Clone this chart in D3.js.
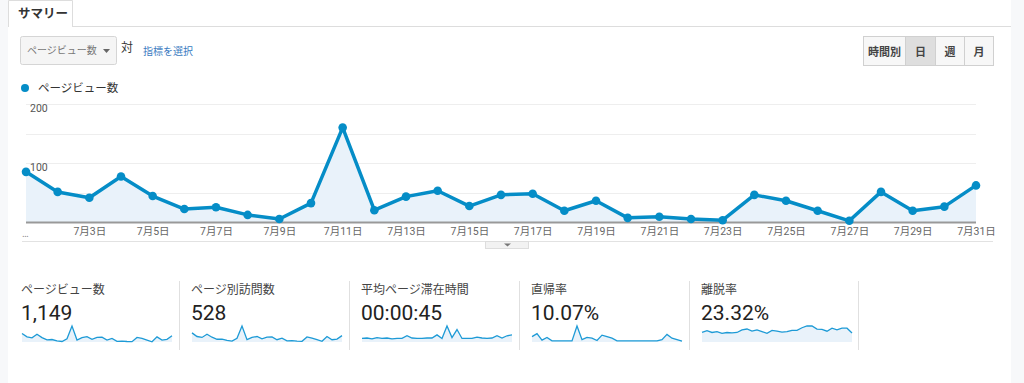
<!DOCTYPE html>
<html>
<head>
<meta charset="utf-8">
<script src="https://cdn.jsdelivr.net/npm/d3@7"></script>
<style>
  body { margin: 0; background: #fff; }
  svg { display: block; font-family: Roboto, "Noto Sans CJK JP", sans-serif; }
</style>
</head>
<body>
<div id="chart"></div>
<script>
// data (July, daily)
const days = d3.range(1, 32);
const dayLabels = days.map(d => `7月${d}日`);
const pageviews = [85, 51, 41, 77, 44, 22, 25, 12, 5, 32, 160, 20, 43, 53, 27, 46, 48, 19, 36, 7, 9, 5, 3, 46, 36, 19, 2, 51, 19, 26, 62];
const visits = [40, 24, 20, 34, 21, 12, 13, 7, 4, 16, 70, 10, 20, 24, 14, 21, 22, 10, 17, 5, 6, 4, 3, 22, 17, 10, 3, 24, 10, 13, 28];
const avgTime = [8, 9, 7, 10, 8, 9, 7, 8, 8, 14, 9, 8, 8, 9, 9, 16, 8, 36, 10, 28, 8, 8, 8, 11, 9, 8, 9, 14, 9, 14, 16];
const directRate = [14, 22, 5, 12, 3, 3, 3, 3, 3, 42, 6, 12, 10, 4, 18, 14, 10, 3, 3, 3, 3, 3, 3, 3, 3, 3, 6, 20, 10, 6, 2];
const bounceRate = [22, 26, 22, 24, 20, 22, 21, 22, 28, 30, 25, 28, 24, 20, 27, 25, 23, 24, 27, 27, 33, 37, 37, 30, 29, 25, 32, 28, 32, 32, 21];
const yTicks = [100, 200];
const periodButtons = ["時間別", "日", "週", "月"];
const summary = [
    { label: "ページビュー数", value: "1,149", data: pageviews },
    { label: "ページ別訪問数", value: "528", data: visits },
    { label: "平均ページ滞在時間", value: "00:00:45", data: avgTime },
    { label: "直帰率", value: "10.07%", data: directRate },
    { label: "離脱率", value: "23.32%", data: bounceRate }
];

const width = 1024, height = 383;
const blue = "#058dc7";

const svg = d3.select("#chart").append("svg")
    .attr("width", width)
    .attr("height", height);

// page frame
svg.append("rect").attr("x", 0).attr("y", 0).attr("width", 8).attr("height", height).attr("fill", "#f7f8fa");
svg.append("rect").attr("x", 1011).attr("y", 0).attr("width", 13).attr("height", height).attr("fill", "#f7f8fa");
svg.append("line").attr("x1", 8).attr("x2", 1011).attr("y1", 26.5).attr("y2", 26.5).attr("stroke", "#ddd");

// tab
svg.append("path")
    .attr("d", "M8.5,27 V0.5 H72.5 V27")
    .attr("fill", "#fff")
    .attr("stroke", "#ddd");
svg.append("text").attr("x", 18).attr("y", 18)
    .attr("font-size", 12.5).attr("font-weight", "bold").attr("fill", "#333")
    .text("サマリー");

// metric dropdown
svg.append("rect").attr("x", 20.5).attr("y", 36.5).attr("width", 96).attr("height", 28).attr("rx", 2)
    .attr("fill", "#f5f5f5").attr("stroke", "#d5d5d5");
svg.append("text").attr("x", 27).attr("y", 54).attr("font-size", 10).attr("fill", "#777").text("ページビュー数");
svg.append("path").attr("d", "M103,49 h7 l-3.5,4 z").attr("fill", "#666");
svg.append("text").attr("x", 121).attr("y", 52).attr("font-size", 12).attr("fill", "#333").text("対");
svg.append("text").attr("x", 143).attr("y", 55).attr("font-size", 10).attr("fill", "#3a7bbf").text("指標を選択");

// period buttons
const btnX = d3.scaleOrdinal().domain(periodButtons).range([863, 905, 935, 964]);
const btnW = d3.scaleOrdinal().domain(periodButtons).range([42, 30, 29, 29]);
const btn = svg.append("g").selectAll("g").data(periodButtons).join("g")
    .attr("transform", d => `translate(${btnX(d)},36)`);
btn.append("rect")
    .attr("x", 0.5).attr("y", 0.5)
    .attr("width", d => btnW(d)).attr("height", 29)
    .attr("fill", d => d === "日" ? "#dedede" : "#f7f7f7")
    .attr("stroke", "#d0d0d0");
btn.append("text")
    .attr("x", d => btnW(d) / 2 + 0.5).attr("y", 20)
    .attr("text-anchor", "middle").attr("font-size", 11).attr("font-weight", "bold").attr("fill", "#444")
    .text(d => d);

// legend
svg.append("circle").attr("cx", 25).attr("cy", 88).attr("r", 4).attr("fill", blue);
svg.append("text").attr("x", 38).attr("y", 92).attr("font-size", 11.5).attr("fill", "#333").text("ページビュー数");

// main chart
const x = d3.scaleLinear().domain([1, 31]).range([26, 976]);
const y = d3.scaleLinear().domain([0, 200]).range([222, 104]);

const grid = svg.append("g");
grid.selectAll("line").data([50, 100, 150, 200]).join("line")
    .attr("x1", 26).attr("x2", 976)
    .attr("y1", d => Math.round(y(d)) + 0.5).attr("y2", d => Math.round(y(d)) + 0.5)
    .attr("stroke", "#eeeeee");

const area = d3.area().x((d, i) => x(days[i])).y0(y(0)).y1(d => y(d));
const line = d3.line().x((d, i) => x(days[i])).y(d => y(d));

svg.append("path").datum(pageviews).attr("d", area).attr("fill", "#e9f2fa");

svg.append("line").attr("x1", 26).attr("x2", 976).attr("y1", y(0) + 0.5).attr("y2", y(0) + 0.5)
    .attr("stroke", "#999").attr("stroke-width", 2);

svg.append("g").selectAll("text").data(yTicks).join("text")
    .attr("x", 30).attr("y", d => y(d) + 8)
    .attr("font-size", 10.5).attr("fill", "#555")
    .text(d => d);

svg.append("path").datum(pageviews).attr("d", line)
    .attr("fill", "none").attr("stroke", blue).attr("stroke-width", 3.5).attr("stroke-linejoin", "round");

svg.append("g").selectAll("circle").data(pageviews).join("circle")
    .attr("cx", (d, i) => x(days[i])).attr("cy", d => y(d)).attr("r", 4.3).attr("fill", blue);

// x axis labels
const xAxis = d3.axisBottom(x)
    .tickValues(days.filter(d => d % 2 === 1 && d > 1))
    .tickSize(0)
    .tickFormat(d => dayLabels[d - 1]);
const axisG = svg.append("g").attr("transform", `translate(0,${y(0) + 3})`).call(xAxis);
axisG.select(".domain").remove();
axisG.selectAll("text").attr("font-size", 10.5).attr("fill", "#666").attr("font-family", "Roboto, 'Noto Sans CJK JP', sans-serif");
svg.append("text").attr("x", 22).attr("y", 237).attr("font-size", 10).attr("fill", "#888").text("…");

svg.append("line").attr("x1", 22).attr("x2", 993).attr("y1", 241.5).attr("y2", 241.5).attr("stroke", "#e2e2e2");
svg.append("rect").attr("x", 485.5).attr("y", 241.5).attr("width", 43).attr("height", 7).attr("fill", "#f2f2f2").attr("stroke", "#ddd");
svg.append("path").attr("d", "M504,243.5 h7 l-3.5,3 z").attr("fill", "#777");

// summary panels with sparklines
const panelX = d3.scaleBand().domain(d3.range(summary.length)).range([13, 863]);
const panel = svg.append("g").selectAll("g").data(summary).join("g")
    .attr("transform", (d, i) => `translate(${panelX(i)},0)`);

panel.filter((d, i) => i > 0).append("line")
    .attr("x1", -3.5).attr("x2", -3.5).attr("y1", 281).attr("y2", 350).attr("stroke", "#e0e0e0");
svg.append("line").attr("x1", 858.5).attr("x2", 858.5).attr("y1", 281).attr("y2", 350).attr("stroke", "#e0e0e0");

panel.append("text").attr("x", 8).attr("y", 294).attr("font-size", 12).attr("fill", "#444").text(d => d.label);
panel.append("text").attr("x", 8).attr("y", 320).attr("font-size", 21).attr("fill", "#222").text(d => d.value);

const sx = d3.scaleLinear().domain([1, 31]).range([9, 159]);
panel.each(function (d) {
    const sy = d3.scaleLinear().domain([0, d3.max(d.data)]).range([342, 326]);
    const g = d3.select(this);
    g.append("path").datum(d.data)
        .attr("d", d3.area().x((v, i) => sx(days[i])).y0(342).y1(v => sy(v)))
        .attr("fill", "#e9f2fa");
    g.append("path").datum(d.data)
        .attr("d", d3.line().x((v, i) => sx(days[i])).y(v => sy(v)))
        .attr("fill", "none").attr("stroke", "#1d9ad6").attr("stroke-width", 1.3);
});
</script>
</body>
</html>
